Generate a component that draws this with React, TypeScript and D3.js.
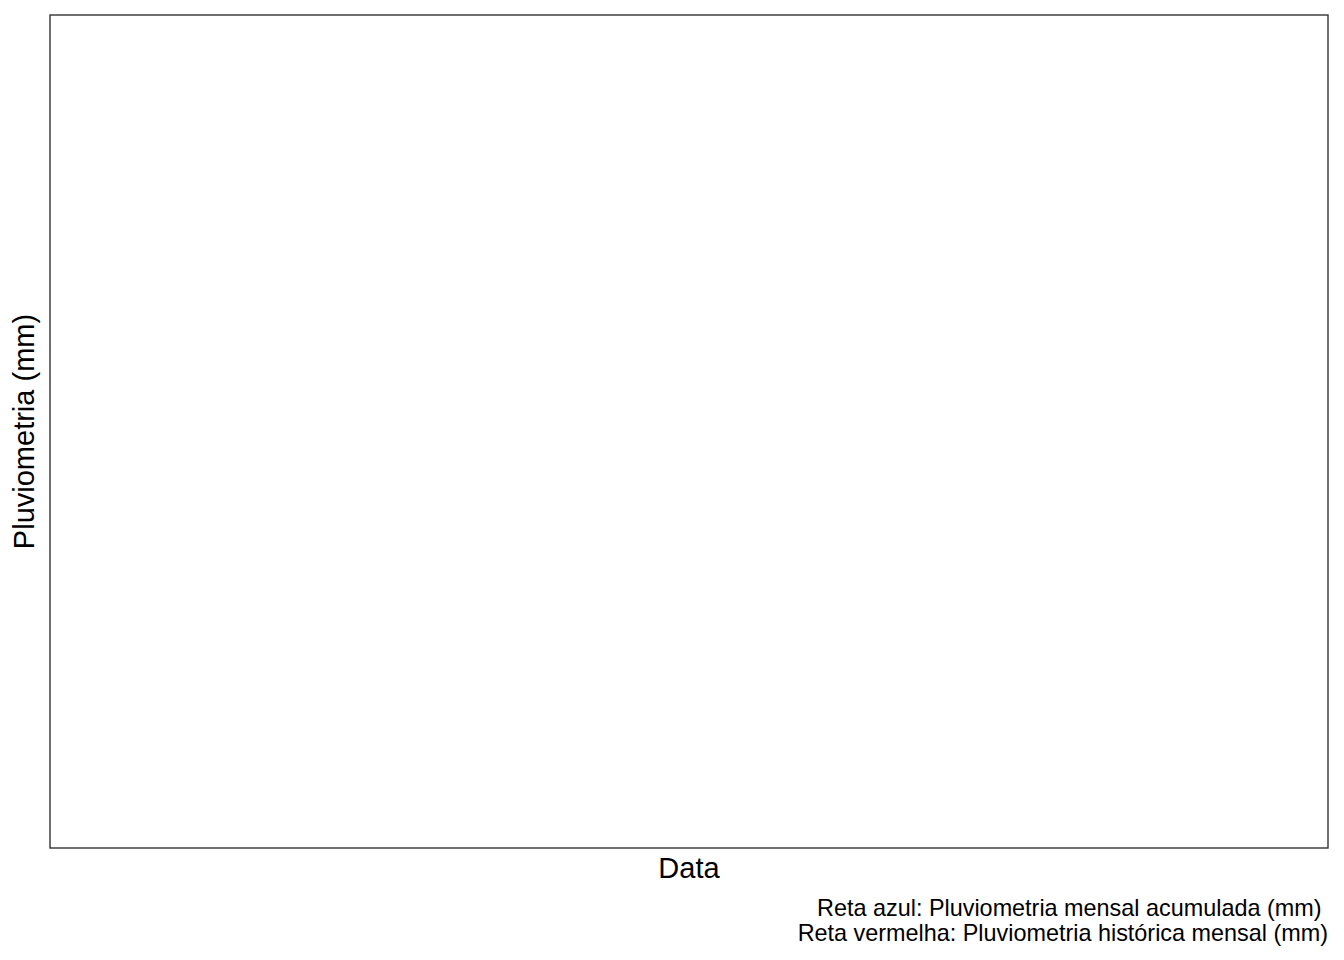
import * as d3 from 'd3';

// No observations are plotted in the reference: the panel is empty.
const dates: Date[] = [];
const rainAccum: number[] = [];
const rainHistoric: number[] = [];

const xTitle = 'Data';
const yTitle = 'Pluviometria (mm)';
const captionLines = [
    'Reta azul: Pluviometria mensal acumulada (mm) ',
    'Reta vermelha: Pluviometria histórica mensal (mm)',
];

const W = 1344;
const H = 960;
const margin = { top: 15, right: 16, bottom: 112, left: 50 };
const font = '"Liberation Sans", Arial, sans-serif';

export default function App() {
    const innerW = W - margin.left - margin.right;
    const innerH = H - margin.top - margin.bottom;

    const x = d3.scaleTime()
        .domain(d3.extent(dates) as [Date, Date])
        .range([0, innerW]);
    const y = d3.scaleLinear()
        .domain([0, d3.max([...rainAccum, ...rainHistoric]) ?? 1])
        .range([innerH, 0]);

    const line = d3.line<[Date, number]>()
        .x(d => x(d[0]))
        .y(d => y(d[1]));

    const accum = dates.map((d, i) => [d, rainAccum[i]] as [Date, number]);
    const hist = dates.map((d, i) => [d, rainHistoric[i]] as [Date, number]);

    return (
        <svg width={W} height={H} style={{ position: 'absolute', left: 0, top: 0 }} fontFamily={font}>
            <rect width={W} height={H} fill="#fff" />
            <g transform={`translate(${margin.left},${margin.top})`}>
                {accum.length > 0 && <path d={line(accum) ?? ''} fill="none" stroke="blue" />}
                {hist.length > 0 && <path d={line(hist) ?? ''} fill="none" stroke="red" />}
                <rect x={0} y={0} width={innerW} height={innerH} fill="none" stroke="#333" strokeWidth={1.4} />
                <text x={innerW / 2} y={innerH + 30} textAnchor="middle" fontSize={29}>{xTitle}</text>
            </g>
            <text transform={`translate(34,${margin.top + innerH / 2}) rotate(-90)`} textAnchor="middle" fontSize={29}>{yTitle}</text>
            {captionLines.map((t, i) => (
                <text key={i} x={W - margin.right} y={916 + i * 24.5} textAnchor="end" fontSize={23.4} style={{ whiteSpace: 'pre' }}>{t}</text>
            ))}
        </svg>
    );
}
